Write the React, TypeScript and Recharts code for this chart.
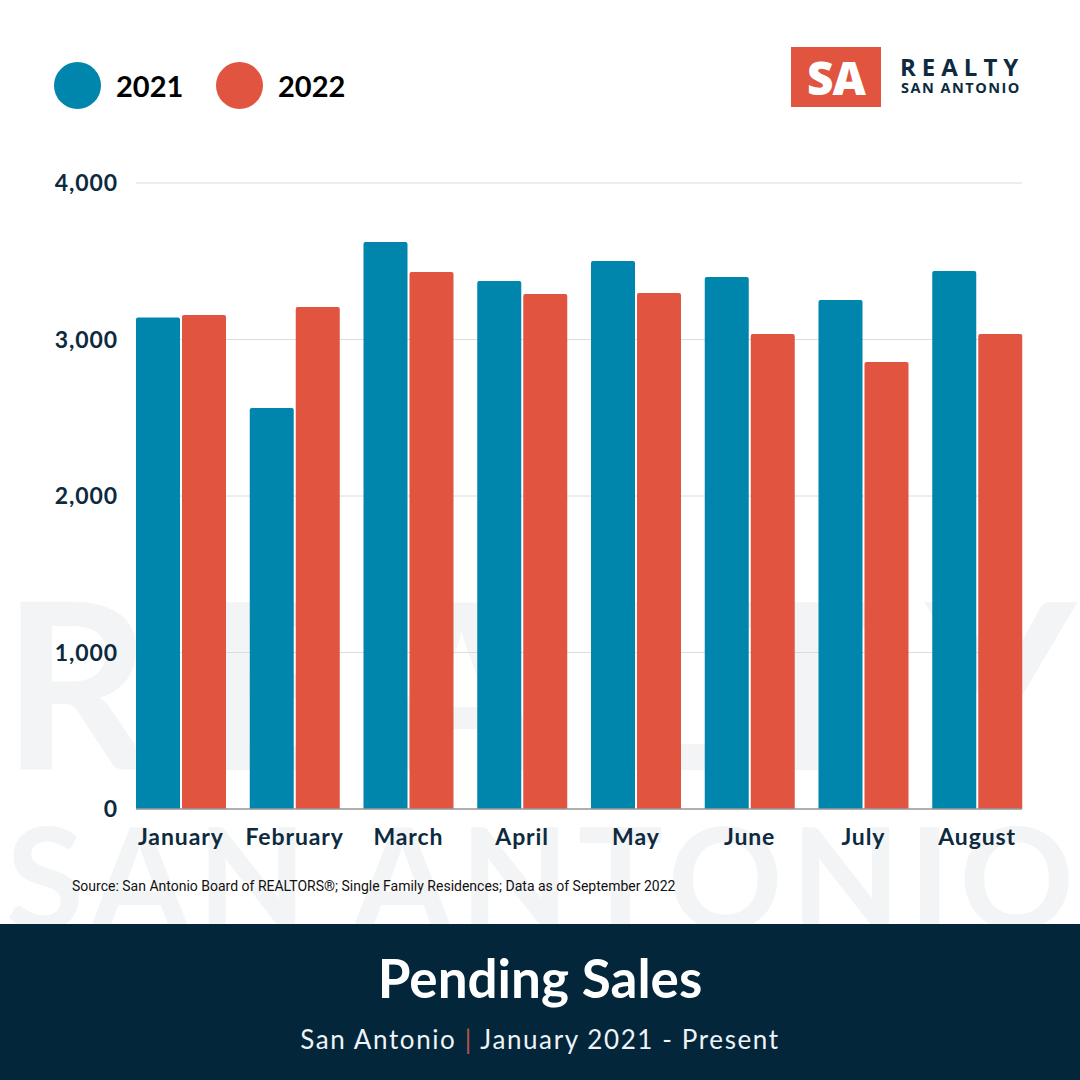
import { Bar, BarChart, CartesianGrid, XAxis, YAxis } from 'recharts';

const MONTHS = ['January', 'February', 'March', 'April', 'May', 'June', 'July', 'August'];
const SALES_2021 = [3140, 2562, 3623, 3374, 3502, 3399, 3252, 3438];
const SALES_2022 = [3157, 3208, 3431, 3291, 3297, 3035, 2856, 3035];
const Y_TICKS = [0, 1000, 2000, 3000, 4000];

const BLUE = '#0085AD';
const RED = '#E05440';
const NAVY = '#0D2A3E';
const FONT = 'Lato, "Open Sans", sans-serif';

const rows = MONTHS.map((m, i) => ({ month: m, y2021: SALES_2021[i], y2022: SALES_2022[i] }));

const axisTick = { fill: NAVY, fontSize: 23, fontWeight: 700, fontFamily: FONT, letterSpacing: 0.9 };

function LegendDot({ color, label, x }: { color: string; label: string; x: number }) {
  return (
    <div style={{ position: 'absolute', left: x, top: 62, display: 'flex', alignItems: 'center' }}>
      <div style={{ width: 47, height: 47, borderRadius: '50%', background: color }} />
      <span style={{ marginLeft: 15, fontSize: 29, fontWeight: 700, color: '#000', fontFamily: FONT }}>
        {label}
      </span>
    </div>
  );
}

export default function App() {
  return (
    <div
      style={{
        position: 'absolute', left: 0, top: 0, width: 1080, height: 1080,
        background: '#fff', overflow: 'hidden', fontFamily: FONT,
      }}
    >
      {/* watermark behind the chart, footer band covers its lower part */}
      <svg width={1080} height={1080} style={{ position: 'absolute', left: 0, top: 0 }}>
        <text
          x={2} y={770} textLength={1074} lengthAdjust="spacing"
          fontFamily={FONT} fontWeight={700} fontSize={232} fill="#F3F4F5"
        >
          REALTY
        </text>
        <text
          x={6} y={930} textLength={1068} lengthAdjust="spacing"
          fontFamily={FONT} fontWeight={700} fontSize={142} fill="#F3F4F5"
        >
          SAN ANTONIO
        </text>
      </svg>

      <LegendDot color={BLUE} label="2021" x={54} />
      <LegendDot color={RED} label="2022" x={216} />

      {/* logo */}
      <div
        style={{
          position: 'absolute', left: 791, top: 47, width: 90, height: 60, background: RED,
          color: '#fff', fontSize: 46, fontWeight: 900, display: 'flex', alignItems: 'center',
          justifyContent: 'center', letterSpacing: -1, fontFamily: '"Open Sans", sans-serif',
        }}
      >
        SA
      </div>
      <div
        style={{
          position: 'absolute', left: 900, top: 55, color: NAVY, fontSize: 24, fontWeight: 700,
          letterSpacing: 6, lineHeight: 1, fontFamily: '"Open Sans", sans-serif',
        }}
      >
        REALTY
      </div>
      <div
        style={{
          position: 'absolute', left: 901, top: 81, color: NAVY, fontSize: 14.5, fontWeight: 700,
          letterSpacing: 1.5, lineHeight: 1, fontFamily: '"Open Sans", sans-serif',
        }}
      >
        SAN ANTONIO
      </div>

      <div style={{ position: 'absolute', left: 0, top: 0 }}>
        <BarChart
          width={1080}
          height={880}
          data={rows}
          margin={{ top: 183, right: 58, left: 0, bottom: 0 }}
          barCategoryGap={12}
          barGap={2}
        >
          <CartesianGrid vertical={false} stroke="#DCDCDC" strokeWidth={1} />
          <XAxis
            dataKey="month"
            height={71}
            padding={{ left: -12, right: -12 }}
            tickLine={false}
            tickSize={0}
            tickMargin={20}
            axisLine={{ stroke: '#9A9A9A', strokeWidth: 1.5 }}
            tick={axisTick}
            interval={0}
          />
          <YAxis
            width={136}
            domain={[0, 4000]}
            ticks={Y_TICKS}
            axisLine={false}
            tickLine={false}
            tickSize={0}
            tickMargin={18}
            tick={axisTick}
            tickFormatter={(v: number) => v.toLocaleString('en-US')}
          />
          <Bar dataKey="y2021" fill={BLUE} radius={[2, 2, 0, 0]} isAnimationActive={false} />
          <Bar dataKey="y2022" fill={RED} radius={[2, 2, 0, 0]} isAnimationActive={false} />
        </BarChart>
      </div>

      <div
        style={{
          position: 'absolute', left: 72, top: 878, fontSize: 14, color: '#111',
          fontFamily: 'Roboto, sans-serif', whiteSpace: 'nowrap',
        }}
      >
        Source: San Antonio Board of REALTORS®; Single Family Residences; Data as of September 2022
      </div>

      {/* footer band */}
      <div
        style={{
          position: 'absolute', left: 0, top: 924, width: 1080, height: 156, background: '#03263B',
          color: '#fff', textAlign: 'center',
        }}
      >
        <div style={{ position: 'absolute', left: 0, right: 0, top: 22, fontSize: 53, fontWeight: 700, lineHeight: 1.2 }}>
          Pending Sales
        </div>
        <div
          style={{
            position: 'absolute', left: 0, right: 0, top: 100, fontSize: 26, letterSpacing: 1.6,
            lineHeight: 1.2, color: '#EEF4F8',
          }}
        >
          San Antonio <span style={{ color: '#B9574A' }}>|</span> January 2021 - Present
        </div>
      </div>
    </div>
  );
}
